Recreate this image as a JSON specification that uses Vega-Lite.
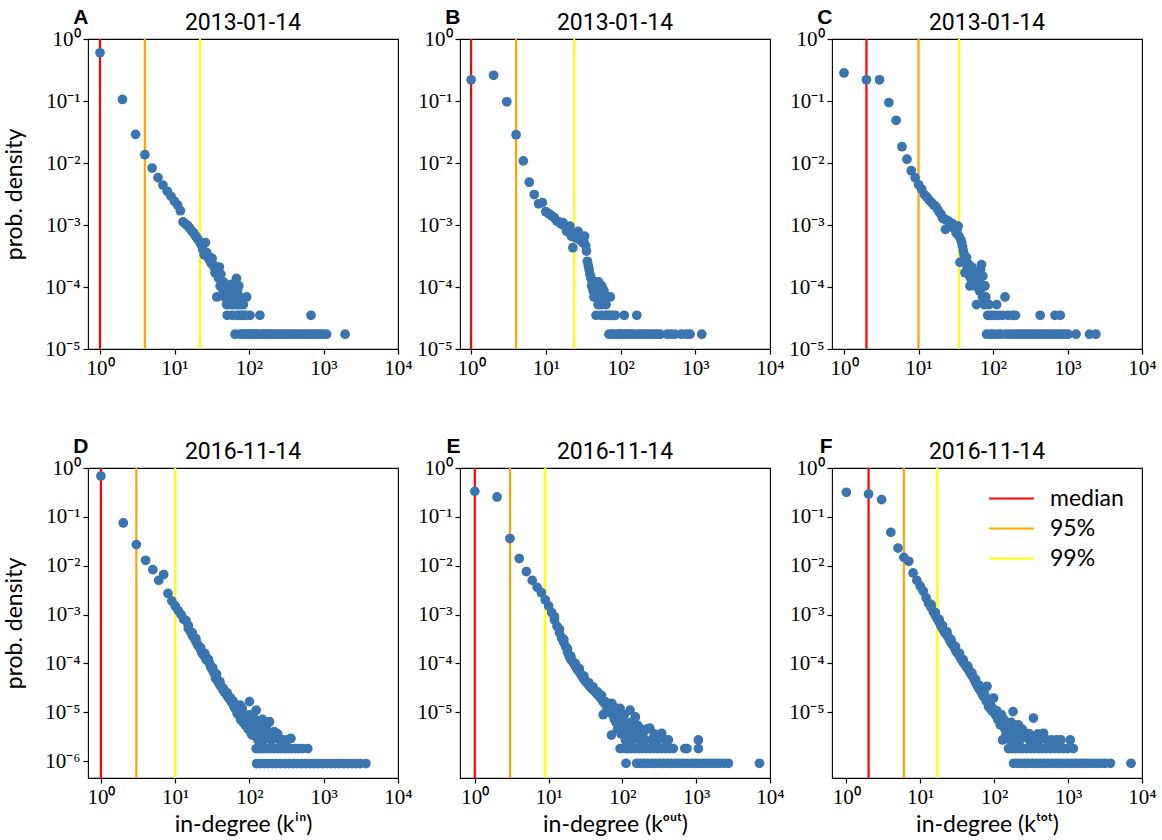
{
"$schema":"https://vega.github.io/schema/vega-lite/v6.json",
"background":"white",
"padding":{"left":3,"top":5,"right":0,"bottom":0},
"columns":3,
"bounds":"flush",
"spacing":{"row":119,"column":62},
"resolve":{"scale":{"x":"independent","y":"independent","color":"independent"}},
"config":{
 "view":{"stroke":"black","strokeWidth":1.1},
 "axis":{"domain":false,"grid":false,"tickSize":5,"tickWidth":1.2,"tickColor":"black","labelFont":"Liberation Serif","labelFontSize":21,"labelColor":"black","labelPadding":3,"titleFont":"Lato","titleFontSize":23,"titleFontWeight":"normal","titleColor":"black","labelOverlap":false,"labelFlush":false,"labelBound":false},
 "axisY":{"titlePadding":18},
 "axisX":{"titlePadding":6},
 "title":{"font":"Roboto","fontSize":23,"fontWeight":"normal","color":"black","anchor":"middle","frame":"group","baseline":"alphabetic","offset":0,"dy":33},
 "legend":{"orient":"top-right","offset":18,"padding":0,"symbolType":"M-2,0H2","symbolSize":500,"symbolStrokeWidth":2.2,"labelFont":"Lato","labelFontSize":23,"labelColor":"black","rowPadding":5,"labelOffset":26}
},
"datasets":{
"lines":[
{"p":"A","k":1,"stat":"median"},{"p":"A","k":4,"stat":"95%"},{"p":"A","k":22,"stat":"99%"},
{"p":"B","k":1,"stat":"median"},{"p":"B","k":4,"stat":"95%"},{"p":"B","k":24,"stat":"99%"},
{"p":"C","k":2,"stat":"median"},{"p":"C","k":10,"stat":"95%"},{"p":"C","k":35,"stat":"99%"},
{"p":"D","k":1,"stat":"median"},{"p":"D","k":3,"stat":"95%"},{"p":"D","k":10,"stat":"99%"},
{"p":"E","k":1,"stat":"median"},{"p":"E","k":3,"stat":"95%"},{"p":"E","k":9,"stat":"99%"},
{"p":"F","k":2,"stat":"median"},{"p":"F","k":6,"stat":"95%"},{"p":"F","k":17,"stat":"99%"}
],
"pts":[
{"p":"A","k":1,"d":0.6},{"p":"A","k":2,"d":0.106},{"p":"A","k":3,"d":0.029},{"p":"A","k":4,"d":0.0136},{"p":"A","k":5,"d":0.0083},{"p":"A","k":6,"d":0.0058},{"p":"A","k":7,"d":0.0044},{"p":"A","k":8,"d":0.0035},{"p":"A","k":9,"d":0.0029},{"p":"A","k":10,"d":0.0024},{"p":"A","k":11,"d":0.0021},{"p":"A","k":12,"d":0.0017},{"p":"A","k":13,"d":0.00112},{"p":"A","k":14,"d":0.00104},{"p":"A","k":15,"d":0.00098},{"p":"A","k":16,"d":0.00089},{"p":"A","k":17,"d":0.0008},{"p":"A","k":18,"d":0.00075},{"p":"A","k":19,"d":0.00067},{"p":"A","k":20,"d":0.00062},{"p":"A","k":21,"d":0.00057},{"p":"A","k":22,"d":0.00052},{"p":"A","k":23,"d":0.00047},{"p":"A","k":24,"d":0.0004},{"p":"A","k":25,"d":0.00033},{"p":"A","k":26,"d":0.00052},{"p":"A","k":27,"d":0.00036},{"p":"A","k":28,"d":0.00031},{"p":"A","k":29,"d":0.00028},{"p":"A","k":30,"d":0.0003},{"p":"A","k":31,"d":0.00024},{"p":"A","k":32,"d":0.00029},{"p":"A","k":33,"d":0.00023},{"p":"A","k":34,"d":0.00021},{"p":"A","k":35,"d":0.00017},{"p":"A","k":36,"d":0.00019},{"p":"A","k":37,"d":0.000069},{"p":"A","k":38,"d":0.00016},{"p":"A","k":39,"d":0.00014},{"p":"A","k":40,"d":0.00021},{"p":"A","k":41,"d":0.000104},{"p":"A","k":42,"d":0.00016},{"p":"A","k":43,"d":0.00012},{"p":"A","k":44,"d":0.0001},{"p":"A","k":45,"d":0.000087},{"p":"A","k":46,"d":0.00012},{"p":"A","k":47,"d":0.000069},{"p":"A","k":48,"d":0.000104},{"p":"A","k":49,"d":0.000087},{"p":"A","k":50,"d":0.000052},{"p":"A","k":51,"d":0.000035},{"p":"A","k":52,"d":0.000087},{"p":"A","k":53,"d":0.000069},{"p":"A","k":54,"d":0.000104},{"p":"A","k":55,"d":0.000052},{"p":"A","k":56,"d":0.000069},{"p":"A","k":57,"d":0.000087},{"p":"A","k":58,"d":0.00011},{"p":"A","k":59,"d":0.000052},{"p":"A","k":60,"d":0.000035},{"p":"A","k":61,"d":0.000069},{"p":"A","k":62,"d":0.000052},{"p":"A","k":63,"d":0.000087},{"p":"A","k":64,"d":0.000104},{"p":"A","k":65,"d":0.0000173},{"p":"A","k":66,"d":0.000069},{"p":"A","k":67,"d":0.000052},{"p":"A","k":68,"d":0.000138},{"p":"A","k":69,"d":0.000035},{"p":"A","k":70,"d":0.000087},{"p":"A","k":71,"d":0.000069},{"p":"A","k":72,"d":0.000052},{"p":"A","k":73,"d":0.000104},{"p":"A","k":74,"d":0.000035},{"p":"A","k":75,"d":0.000069},{"p":"A","k":76,"d":0.0000173},{"p":"A","k":78,"d":0.000052},{"p":"A","k":80,"d":0.000035},{"p":"A","k":82,"d":0.0000173},{"p":"A","k":84,"d":0.000052},{"p":"A","k":86,"d":0.000035},{"p":"A","k":88,"d":0.0000173},{"p":"A","k":90,"d":0.000035},{"p":"A","k":93,"d":0.000069},{"p":"A","k":96,"d":0.0000173},{"p":"A","k":100,"d":0.0000173},{"p":"A","k":103,"d":0.000035},{"p":"A","k":107,"d":0.0000173},{"p":"A","k":112,"d":0.0000173},{"p":"A","k":118,"d":0.0000173},{"p":"A","k":124,"d":0.0000173},{"p":"A","k":130,"d":0.0000173},{"p":"A","k":140,"d":0.000035},{"p":"A","k":145,"d":0.0000173},{"p":"A","k":155,"d":0.0000173},{"p":"A","k":165,"d":0.0000173},{"p":"A","k":175,"d":0.0000173},{"p":"A","k":190,"d":0.0000173},{"p":"A","k":205,"d":0.0000173},{"p":"A","k":220,"d":0.0000173},{"p":"A","k":240,"d":0.0000173},{"p":"A","k":260,"d":0.0000173},{"p":"A","k":280,"d":0.0000173},{"p":"A","k":300,"d":0.0000173},{"p":"A","k":330,"d":0.0000173},{"p":"A","k":360,"d":0.0000173},{"p":"A","k":390,"d":0.0000173},{"p":"A","k":430,"d":0.0000173},{"p":"A","k":470,"d":0.0000173},{"p":"A","k":510,"d":0.0000173},{"p":"A","k":560,"d":0.0000173},{"p":"A","k":610,"d":0.0000173},{"p":"A","k":660,"d":0.0000173},{"p":"A","k":680,"d":0.000035},{"p":"A","k":720,"d":0.0000173},{"p":"A","k":780,"d":0.0000173},{"p":"A","k":850,"d":0.0000173},{"p":"A","k":920,"d":0.0000173},{"p":"A","k":1000,"d":0.0000173},{"p":"A","k":1100,"d":0.0000173},{"p":"A","k":1950,"d":0.0000173},

{"p":"B","k":1,"d":0.22},{"p":"B","k":2,"d":0.26},{"p":"B","k":3,"d":0.097},{"p":"B","k":4,"d":0.0286},{"p":"B","k":5,"d":0.0108},{"p":"B","k":6,"d":0.0049},{"p":"B","k":7,"d":0.0031},{"p":"B","k":8,"d":0.0022},{"p":"B","k":9,"d":0.0023},{"p":"B","k":10,"d":0.00164},{"p":"B","k":11,"d":0.00152},{"p":"B","k":12,"d":0.0014},{"p":"B","k":13,"d":0.00131},{"p":"B","k":14,"d":0.00116},{"p":"B","k":15,"d":0.00112},{"p":"B","k":16,"d":0.00104},{"p":"B","k":17,"d":0.00109},{"p":"B","k":18,"d":0.00095},{"p":"B","k":19,"d":0.00079},{"p":"B","k":20,"d":0.00085},{"p":"B","k":21,"d":0.00096},{"p":"B","k":22,"d":0.00066},{"p":"B","k":23,"d":0.00043},{"p":"B","k":24,"d":0.0007},{"p":"B","k":25,"d":0.00062},{"p":"B","k":26,"d":0.00075},{"p":"B","k":27,"d":0.00079},{"p":"B","k":28,"d":0.00058},{"p":"B","k":29,"d":0.0006},{"p":"B","k":30,"d":0.00059},{"p":"B","k":31,"d":0.00052},{"p":"B","k":32,"d":0.00055},{"p":"B","k":33,"d":0.00066},{"p":"B","k":34,"d":0.00047},{"p":"B","k":35,"d":0.00038},{"p":"B","k":36,"d":0.00026},{"p":"B","k":37,"d":0.00022},{"p":"B","k":38,"d":0.00019},{"p":"B","k":39,"d":0.00016},{"p":"B","k":40,"d":0.00014},{"p":"B","k":41,"d":0.000104},{"p":"B","k":42,"d":0.00012},{"p":"B","k":43,"d":0.000087},{"p":"B","k":44,"d":0.000069},{"p":"B","k":45,"d":0.000104},{"p":"B","k":46,"d":0.000121},{"p":"B","k":47,"d":0.000035},{"p":"B","k":48,"d":0.000087},{"p":"B","k":49,"d":0.000069},{"p":"B","k":50,"d":0.000052},{"p":"B","k":51,"d":0.000121},{"p":"B","k":52,"d":0.000069},{"p":"B","k":53,"d":0.000052},{"p":"B","k":54,"d":0.000087},{"p":"B","k":55,"d":0.000035},{"p":"B","k":56,"d":0.000104},{"p":"B","k":57,"d":0.000052},{"p":"B","k":58,"d":0.000069},{"p":"B","k":60,"d":0.000087},{"p":"B","k":62,"d":0.000035},{"p":"B","k":64,"d":0.000052},{"p":"B","k":66,"d":0.000035},{"p":"B","k":68,"d":0.000069},{"p":"B","k":70,"d":0.0000173},{"p":"B","k":72,"d":0.000035},{"p":"B","k":73,"d":0.000069},{"p":"B","k":75,"d":0.0000173},{"p":"B","k":78,"d":0.000035},{"p":"B","k":80,"d":0.0000173},{"p":"B","k":85,"d":0.000035},{"p":"B","k":90,"d":0.0000173},{"p":"B","k":95,"d":0.0000173},{"p":"B","k":100,"d":0.0000173},{"p":"B","k":106,"d":0.0000173},{"p":"B","k":112,"d":0.000035},{"p":"B","k":118,"d":0.0000173},{"p":"B","k":125,"d":0.0000173},{"p":"B","k":133,"d":0.0000173},{"p":"B","k":142,"d":0.0000173},{"p":"B","k":152,"d":0.0000173},{"p":"B","k":165,"d":0.000035},{"p":"B","k":170,"d":0.0000173},{"p":"B","k":185,"d":0.0000173},{"p":"B","k":200,"d":0.0000173},{"p":"B","k":220,"d":0.0000173},{"p":"B","k":240,"d":0.0000173},{"p":"B","k":265,"d":0.0000173},{"p":"B","k":290,"d":0.0000173},{"p":"B","k":315,"d":0.0000173},{"p":"B","k":340,"d":0.0000173},{"p":"B","k":420,"d":0.0000173},{"p":"B","k":470,"d":0.0000173},{"p":"B","k":530,"d":0.0000173},{"p":"B","k":650,"d":0.0000173},{"p":"B","k":760,"d":0.0000173},{"p":"B","k":850,"d":0.0000173},{"p":"B","k":1220,"d":0.0000173},

{"p":"C","k":1,"d":0.283},{"p":"C","k":2,"d":0.22},{"p":"C","k":3,"d":0.22},{"p":"C","k":4,"d":0.094},{"p":"C","k":5,"d":0.0488},{"p":"C","k":6,"d":0.0183},{"p":"C","k":7,"d":0.0115},{"p":"C","k":8,"d":0.0075},{"p":"C","k":9,"d":0.0058},{"p":"C","k":10,"d":0.0045},{"p":"C","k":11,"d":0.0038},{"p":"C","k":12,"d":0.0031},{"p":"C","k":13,"d":0.0028},{"p":"C","k":14,"d":0.0025},{"p":"C","k":15,"d":0.0023},{"p":"C","k":16,"d":0.0021},{"p":"C","k":17,"d":0.002},{"p":"C","k":18,"d":0.0018},{"p":"C","k":19,"d":0.0016},{"p":"C","k":20,"d":0.0015},{"p":"C","k":21,"d":0.0013},{"p":"C","k":22,"d":0.00125},{"p":"C","k":23,"d":0.00085},{"p":"C","k":24,"d":0.0012},{"p":"C","k":25,"d":0.00116},{"p":"C","k":26,"d":0.0011},{"p":"C","k":27,"d":0.00098},{"p":"C","k":28,"d":0.00105},{"p":"C","k":29,"d":0.00103},{"p":"C","k":30,"d":0.00088},{"p":"C","k":31,"d":0.00095},{"p":"C","k":32,"d":0.00075},{"p":"C","k":33,"d":0.00085},{"p":"C","k":34,"d":0.00096},{"p":"C","k":35,"d":0.00066},{"p":"C","k":36,"d":0.00025},{"p":"C","k":37,"d":0.00058},{"p":"C","k":38,"d":0.00052},{"p":"C","k":39,"d":0.00045},{"p":"C","k":40,"d":0.00038},{"p":"C","k":41,"d":0.00033},{"p":"C","k":42,"d":0.00017},{"p":"C","k":43,"d":0.00028},{"p":"C","k":44,"d":0.0003},{"p":"C","k":45,"d":0.00021},{"p":"C","k":46,"d":0.00024},{"p":"C","k":47,"d":0.00016},{"p":"C","k":48,"d":0.00019},{"p":"C","k":49,"d":0.000104},{"p":"C","k":50,"d":0.00014},{"p":"C","k":52,"d":0.00021},{"p":"C","k":54,"d":0.00012},{"p":"C","k":56,"d":0.00017},{"p":"C","k":58,"d":0.000104},{"p":"C","k":60,"d":0.000052},{"p":"C","k":62,"d":0.00014},{"p":"C","k":64,"d":0.000121},{"p":"C","k":66,"d":0.000087},{"p":"C","k":67,"d":0.000087},{"p":"C","k":68,"d":0.00019},{"p":"C","k":70,"d":0.00023},{"p":"C","k":72,"d":0.000069},{"p":"C","k":73,"d":0.00015},{"p":"C","k":75,"d":0.000104},{"p":"C","k":76,"d":0.000052},{"p":"C","k":78,"d":0.000104},{"p":"C","k":80,"d":0.000069},{"p":"C","k":82,"d":0.0000173},{"p":"C","k":85,"d":0.000035},{"p":"C","k":88,"d":0.000052},{"p":"C","k":92,"d":0.0000173},{"p":"C","k":95,"d":0.000035},{"p":"C","k":100,"d":0.0000173},{"p":"C","k":105,"d":0.000035},{"p":"C","k":112,"d":0.000052},{"p":"C","k":115,"d":0.0000173},{"p":"C","k":120,"d":0.000035},{"p":"C","k":128,"d":0.0000173},{"p":"C","k":135,"d":0.000035},{"p":"C","k":145,"d":0.000069},{"p":"C","k":150,"d":0.0000173},{"p":"C","k":160,"d":0.000035},{"p":"C","k":170,"d":0.0000173},{"p":"C","k":185,"d":0.000035},{"p":"C","k":190,"d":0.0000173},{"p":"C","k":200,"d":0.000035},{"p":"C","k":210,"d":0.0000173},{"p":"C","k":230,"d":0.0000173},{"p":"C","k":250,"d":0.0000173},{"p":"C","k":275,"d":0.0000173},{"p":"C","k":300,"d":0.0000173},{"p":"C","k":330,"d":0.0000173},{"p":"C","k":360,"d":0.0000173},{"p":"C","k":400,"d":0.0000173},{"p":"C","k":430,"d":0.000035},{"p":"C","k":440,"d":0.0000173},{"p":"C","k":480,"d":0.0000173},{"p":"C","k":530,"d":0.0000173},{"p":"C","k":580,"d":0.0000173},{"p":"C","k":640,"d":0.0000173},{"p":"C","k":680,"d":0.000035},{"p":"C","k":700,"d":0.0000173},{"p":"C","k":770,"d":0.0000173},{"p":"C","k":800,"d":0.000035},{"p":"C","k":850,"d":0.0000173},{"p":"C","k":930,"d":0.0000173},{"p":"C","k":1020,"d":0.0000173},{"p":"C","k":1300,"d":0.0000173},{"p":"C","k":1980,"d":0.0000173},{"p":"C","k":2400,"d":0.0000173},

{"p":"D","k":1,"d":0.685},{"p":"D","k":2,"d":0.075},{"p":"D","k":3,"d":0.027},{"p":"D","k":4,"d":0.0129},{"p":"D","k":5,"d":0.0083},{"p":"D","k":6,"d":0.005},{"p":"D","k":7,"d":0.0066},{"p":"D","k":8,"d":0.0027},{"p":"D","k":9,"d":0.0019},{"p":"D","k":10,"d":0.0015},{"p":"D","k":11,"d":0.0012},{"p":"D","k":12,"d":0.001},{"p":"D","k":13,"d":0.0008},{"p":"D","k":14,"d":0.00075},{"p":"D","k":15,"d":0.00052},{"p":"D","k":16,"d":0.00045},{"p":"D","k":17,"d":0.00037},{"p":"D","k":18,"d":0.00033},{"p":"D","k":19,"d":0.00028},{"p":"D","k":20,"d":0.00024},{"p":"D","k":21,"d":0.00022},{"p":"D","k":22,"d":0.00019},{"p":"D","k":23,"d":0.00016},{"p":"D","k":24,"d":0.00015},{"p":"D","k":25,"d":0.00014},{"p":"D","k":26,"d":0.00012},{"p":"D","k":27,"d":0.000127},{"p":"D","k":28,"d":0.00011},{"p":"D","k":29,"d":0.0001},{"p":"D","k":30,"d":0.000085},{"p":"D","k":31,"d":0.00008},{"p":"D","k":32,"d":0.000072},{"p":"D","k":33,"d":0.000066},{"p":"D","k":34,"d":0.00006},{"p":"D","k":35,"d":0.000049},{"p":"D","k":36,"d":0.000052},{"p":"D","k":37,"d":0.000045},{"p":"D","k":38,"d":0.000042},{"p":"D","k":39,"d":0.00004},{"p":"D","k":40,"d":0.000036},{"p":"D","k":42,"d":0.000033},{"p":"D","k":44,"d":0.000029},{"p":"D","k":46,"d":0.000026},{"p":"D","k":48,"d":0.000024},{"p":"D","k":50,"d":0.000022},{"p":"D","k":52,"d":0.00002},{"p":"D","k":54,"d":0.000019},{"p":"D","k":56,"d":0.000017},{"p":"D","k":58,"d":0.000016},{"p":"D","k":60,"d":0.000015},{"p":"D","k":62,"d":0.000013},{"p":"D","k":64,"d":0.000012},{"p":"D","k":66,"d":0.000014},{"p":"D","k":68,"d":0.0000095},{"p":"D","k":70,"d":0.000011},{"p":"D","k":72,"d":0.0000089},{"p":"D","k":74,"d":0.00001},{"p":"D","k":76,"d":0.0000071},{"p":"D","k":78,"d":0.0000098},{"p":"D","k":80,"d":0.000012},{"p":"D","k":82,"d":0.0000062},{"p":"D","k":84,"d":0.0000089},{"p":"D","k":86,"d":0.0000071},{"p":"D","k":88,"d":0.0000054},{"p":"D","k":90,"d":0.0000055},{"p":"D","k":93,"d":0.000008},{"p":"D","k":96,"d":0.0000045},{"p":"D","k":100,"d":0.0000088},{"p":"D","k":100,"d":0.0000165},{"p":"D","k":103,"d":0.0000062},{"p":"D","k":106,"d":0.0000036},{"p":"D","k":110,"d":0.0000034},{"p":"D","k":113,"d":0.0000054},{"p":"D","k":116,"d":0.0000045},{"p":"D","k":120,"d":0.0000071},{"p":"D","k":123,"d":0.000011},{"p":"D","k":126,"d":0.0000036},{"p":"D","k":130,"d":0.0000027},{"p":"D","k":133,"d":0.0000045},{"p":"D","k":136,"d":0.0000027},{"p":"D","k":140,"d":0.0000054},{"p":"D","k":145,"d":0.0000036},{"p":"D","k":150,"d":0.0000071},{"p":"D","k":155,"d":0.0000027},{"p":"D","k":160,"d":0.0000045},{"p":"D","k":165,"d":0.0000036},{"p":"D","k":170,"d":0.0000045},{"p":"D","k":176,"d":0.0000059},{"p":"D","k":186,"d":0.0000064},{"p":"D","k":190,"d":0.0000036},{"p":"D","k":197,"d":0.0000027},{"p":"D","k":205,"d":0.0000036},{"p":"D","k":216,"d":0.000004},{"p":"D","k":227,"d":0.0000029},{"p":"D","k":240,"d":0.0000036},{"p":"D","k":255,"d":0.0000027},{"p":"D","k":285,"d":0.0000027},{"p":"D","k":320,"d":0.0000027},{"p":"D","k":362,"d":0.0000029},
{"p":"D","k":15,"d":0.0006},{"p":"D","k":17,"d":0.00042},{"p":"D","k":19,"d":0.00032},{"p":"D","k":22,"d":0.00021},{"p":"D","k":25,"d":0.00016},{"p":"D","k":28,"d":0.00012},{"p":"D","k":32,"d":0.000082},{"p":"D","k":36,"d":0.00006},{"p":"D","k":40,"d":0.000042},{"p":"D","k":45,"d":0.00003},{"p":"D","k":50,"d":0.000025},{"p":"D","k":55,"d":0.00002},{"p":"D","k":60,"d":0.000017},{"p":"D","k":70,"d":0.000013},{"p":"D","k":75,"d":0.000014},
{"p":"D","k":123,"d":0.0000018},{"p":"D","k":135,"d":0.0000018},{"p":"D","k":150,"d":0.0000018},{"p":"D","k":165,"d":0.0000018},{"p":"D","k":182,"d":0.0000018},{"p":"D","k":200,"d":0.0000018},{"p":"D","k":220,"d":0.0000018},{"p":"D","k":245,"d":0.0000018},{"p":"D","k":270,"d":0.0000018},{"p":"D","k":300,"d":0.0000018},{"p":"D","k":330,"d":0.0000018},{"p":"D","k":370,"d":0.0000018},{"p":"D","k":410,"d":0.0000018},{"p":"D","k":460,"d":0.0000018},{"p":"D","k":520,"d":0.0000018},{"p":"D","k":610,"d":0.0000018},
{"p":"D","k":125,"d":0.00000089},{"p":"D","k":140,"d":0.00000089},{"p":"D","k":160,"d":0.00000089},{"p":"D","k":180,"d":0.00000089},{"p":"D","k":205,"d":0.00000089},{"p":"D","k":230,"d":0.00000089},{"p":"D","k":260,"d":0.00000089},{"p":"D","k":300,"d":0.00000089},{"p":"D","k":340,"d":0.00000089},{"p":"D","k":390,"d":0.00000089},{"p":"D","k":440,"d":0.00000089},{"p":"D","k":500,"d":0.00000089},{"p":"D","k":570,"d":0.00000089},{"p":"D","k":650,"d":0.00000089},{"p":"D","k":740,"d":0.00000089},{"p":"D","k":840,"d":0.00000089},{"p":"D","k":960,"d":0.00000089},{"p":"D","k":1100,"d":0.00000089},{"p":"D","k":1250,"d":0.00000089},{"p":"D","k":1420,"d":0.00000089},{"p":"D","k":1620,"d":0.00000089},{"p":"D","k":1850,"d":0.00000089},{"p":"D","k":2100,"d":0.00000089},{"p":"D","k":2400,"d":0.00000089},{"p":"D","k":2750,"d":0.00000089},{"p":"D","k":3100,"d":0.00000089},{"p":"D","k":3700,"d":0.00000089},

{"p":"E","k":1,"d":0.333},{"p":"E","k":2,"d":0.255},{"p":"E","k":3,"d":0.036},{"p":"E","k":4,"d":0.014},{"p":"E","k":5,"d":0.0076},{"p":"E","k":6,"d":0.005},{"p":"E","k":7,"d":0.0036},{"p":"E","k":8,"d":0.0028},{"p":"E","k":9,"d":0.002},{"p":"E","k":10,"d":0.0015},{"p":"E","k":11,"d":0.0011},{"p":"E","k":12,"d":0.00078},{"p":"E","k":13,"d":0.00058},{"p":"E","k":14,"d":0.00043},{"p":"E","k":15,"d":0.00033},{"p":"E","k":16,"d":0.00027},{"p":"E","k":17,"d":0.00022},{"p":"E","k":18,"d":0.00017},{"p":"E","k":19,"d":0.00014},{"p":"E","k":20,"d":0.00012},{"p":"E","k":21,"d":0.00011},{"p":"E","k":22,"d":0.0001},{"p":"E","k":23,"d":0.000088},{"p":"E","k":24,"d":0.000079},{"p":"E","k":25,"d":0.000072},{"p":"E","k":26,"d":0.000068},{"p":"E","k":27,"d":0.000062},{"p":"E","k":28,"d":0.000056},{"p":"E","k":29,"d":0.000052},{"p":"E","k":30,"d":0.000048},{"p":"E","k":31,"d":0.000046},{"p":"E","k":32,"d":0.000042},{"p":"E","k":34,"d":0.000038},{"p":"E","k":36,"d":0.000034},{"p":"E","k":38,"d":0.000031},{"p":"E","k":40,"d":0.000029},{"p":"E","k":42,"d":0.000027},{"p":"E","k":44,"d":0.000025},{"p":"E","k":46,"d":0.000023},{"p":"E","k":48,"d":0.000022},{"p":"E","k":50,"d":0.00002},{"p":"E","k":52,"d":0.000019},{"p":"E","k":54,"d":0.000017},{"p":"E","k":55,"d":0.0000089},{"p":"E","k":56,"d":0.000016},{"p":"E","k":58,"d":0.0000165},{"p":"E","k":60,"d":0.000014},{"p":"E","k":62,"d":0.000012},{"p":"E","k":64,"d":0.000013},{"p":"E","k":66,"d":0.000011},{"p":"E","k":68,"d":0.0000098},{"p":"E","k":70,"d":0.000013},{"p":"E","k":71,"d":0.0000034},{"p":"E","k":72,"d":0.0000152},{"p":"E","k":74,"d":0.0000089},{"p":"E","k":76,"d":0.000011},{"p":"E","k":78,"d":0.0000071},{"p":"E","k":80,"d":0.0000098},{"p":"E","k":82,"d":0.0000062},{"p":"E","k":84,"d":0.000012},{"p":"E","k":86,"d":0.0000045},{"p":"E","k":88,"d":0.000008},{"p":"E","k":90,"d":0.0000054},{"p":"E","k":93,"d":0.000012},{"p":"E","k":96,"d":0.0000036},{"p":"E","k":100,"d":0.0000071},{"p":"E","k":103,"d":0.0000045},{"p":"E","k":106,"d":0.0000089},{"p":"E","k":110,"d":0.0000027},{"p":"E","k":112,"d":0.0000009},{"p":"E","k":115,"d":0.0000054},{"p":"E","k":120,"d":0.0000036},{"p":"E","k":127,"d":0.000011},{"p":"E","k":130,"d":0.0000062},{"p":"E","k":135,"d":0.0000027},{"p":"E","k":140,"d":0.0000045},{"p":"E","k":150,"d":0.000008},{"p":"E","k":155,"d":0.0000036},{"p":"E","k":160,"d":0.0000054},{"p":"E","k":170,"d":0.0000027},{"p":"E","k":180,"d":0.0000045},{"p":"E","k":190,"d":0.0000036},{"p":"E","k":200,"d":0.0000027},{"p":"E","k":215,"d":0.0000045},{"p":"E","k":235,"d":0.0000047},{"p":"E","k":250,"d":0.0000027},{"p":"E","k":270,"d":0.0000036},{"p":"E","k":300,"d":0.0000027},{"p":"E","k":340,"d":0.0000037},{"p":"E","k":380,"d":0.0000027},{"p":"E","k":420,"d":0.0000027},{"p":"E","k":1070,"d":0.0000027},
{"p":"E","k":12,"d":0.0009},{"p":"E","k":14,"d":0.0005},{"p":"E","k":16,"d":0.00031},{"p":"E","k":18,"d":0.0002},{"p":"E","k":20,"d":0.00014},{"p":"E","k":23,"d":0.0001},{"p":"E","k":26,"d":0.000078},{"p":"E","k":30,"d":0.000055},{"p":"E","k":35,"d":0.00004},{"p":"E","k":40,"d":0.000033},{"p":"E","k":46,"d":0.000026},{"p":"E","k":52,"d":0.000022},{"p":"E","k":60,"d":0.000016},
{"p":"E","k":93,"d":0.0000018},{"p":"E","k":105,"d":0.0000018},{"p":"E","k":118,"d":0.0000018},{"p":"E","k":132,"d":0.0000018},{"p":"E","k":148,"d":0.0000018},{"p":"E","k":165,"d":0.0000018},{"p":"E","k":185,"d":0.0000018},{"p":"E","k":210,"d":0.0000018},{"p":"E","k":235,"d":0.0000018},{"p":"E","k":265,"d":0.0000018},{"p":"E","k":300,"d":0.0000018},{"p":"E","k":340,"d":0.0000018},{"p":"E","k":380,"d":0.0000018},{"p":"E","k":430,"d":0.0000018},{"p":"E","k":490,"d":0.0000018},{"p":"E","k":700,"d":0.0000018},{"p":"E","k":750,"d":0.0000018},{"p":"E","k":1070,"d":0.0000018},
{"p":"E","k":156,"d":0.0000009},{"p":"E","k":175,"d":0.0000009},{"p":"E","k":195,"d":0.0000009},{"p":"E","k":220,"d":0.0000009},{"p":"E","k":250,"d":0.0000009},{"p":"E","k":280,"d":0.0000009},{"p":"E","k":320,"d":0.0000009},{"p":"E","k":360,"d":0.0000009},{"p":"E","k":410,"d":0.0000009},{"p":"E","k":460,"d":0.0000009},{"p":"E","k":520,"d":0.0000009},{"p":"E","k":590,"d":0.0000009},{"p":"E","k":670,"d":0.0000009},{"p":"E","k":760,"d":0.0000009},{"p":"E","k":860,"d":0.0000009},{"p":"E","k":980,"d":0.0000009},{"p":"E","k":1100,"d":0.0000009},{"p":"E","k":1250,"d":0.0000009},{"p":"E","k":1420,"d":0.0000009},{"p":"E","k":1600,"d":0.0000009},{"p":"E","k":1800,"d":0.0000009},{"p":"E","k":2050,"d":0.0000009},{"p":"E","k":2350,"d":0.0000009},{"p":"E","k":2730,"d":0.0000009},{"p":"E","k":7200,"d":0.0000009},

{"p":"F","k":1,"d":0.318},{"p":"F","k":2,"d":0.293},{"p":"F","k":3,"d":0.225},{"p":"F","k":4,"d":0.048},{"p":"F","k":5,"d":0.023},{"p":"F","k":6,"d":0.0148},{"p":"F","k":7,"d":0.0123},{"p":"F","k":8,"d":0.0071},{"p":"F","k":9,"d":0.005},{"p":"F","k":10,"d":0.0038},{"p":"F","k":11,"d":0.003},{"p":"F","k":12,"d":0.0022},{"p":"F","k":13,"d":0.0017},{"p":"F","k":14,"d":0.0014},{"p":"F","k":15,"d":0.00115},{"p":"F","k":16,"d":0.00095},{"p":"F","k":17,"d":0.00082},{"p":"F","k":18,"d":0.0007},{"p":"F","k":19,"d":0.00059},{"p":"F","k":20,"d":0.00052},{"p":"F","k":21,"d":0.00045},{"p":"F","k":22,"d":0.00041},{"p":"F","k":23,"d":0.00038},{"p":"F","k":24,"d":0.00034},{"p":"F","k":25,"d":0.0003},{"p":"F","k":26,"d":0.00027},{"p":"F","k":27,"d":0.00025},{"p":"F","k":28,"d":0.00023},{"p":"F","k":29,"d":0.00021},{"p":"F","k":30,"d":0.00019},{"p":"F","k":31,"d":0.00017},{"p":"F","k":32,"d":0.00016},{"p":"F","k":34,"d":0.00014},{"p":"F","k":36,"d":0.00012},{"p":"F","k":38,"d":0.000105},{"p":"F","k":40,"d":0.000095},{"p":"F","k":42,"d":0.000085},{"p":"F","k":44,"d":0.000078},{"p":"F","k":46,"d":0.00007},{"p":"F","k":48,"d":0.000062},{"p":"F","k":50,"d":0.000057},{"p":"F","k":52,"d":0.000052},{"p":"F","k":54,"d":0.000047},{"p":"F","k":56,"d":0.000041},{"p":"F","k":58,"d":0.000037},{"p":"F","k":60,"d":0.000034},{"p":"F","k":62,"d":0.000031},{"p":"F","k":64,"d":0.000029},{"p":"F","k":66,"d":0.000027},{"p":"F","k":68,"d":0.000025},{"p":"F","k":70,"d":0.000023},{"p":"F","k":72,"d":0.000021},{"p":"F","k":74,"d":0.000024},{"p":"F","k":76,"d":0.00002},{"p":"F","k":78,"d":0.000017},{"p":"F","k":80,"d":0.000034},{"p":"F","k":82,"d":0.000016},{"p":"F","k":84,"d":0.000013},{"p":"F","k":86,"d":0.000015},{"p":"F","k":88,"d":0.000012},{"p":"F","k":90,"d":0.000014},{"p":"F","k":93,"d":0.0000107},{"p":"F","k":96,"d":0.000012},{"p":"F","k":98,"d":0.0000195},{"p":"F","k":100,"d":0.0000098},{"p":"F","k":104,"d":0.0000089},{"p":"F","k":108,"d":0.0000107},{"p":"F","k":112,"d":0.0000071},{"p":"F","k":116,"d":0.000008},{"p":"F","k":121,"d":0.0000055},{"p":"F","k":125,"d":0.0000089},{"p":"F","k":130,"d":0.0000062},{"p":"F","k":135,"d":0.0000071},{"p":"F","k":140,"d":0.0000045},{"p":"F","k":145,"d":0.0000062},{"p":"F","k":150,"d":0.0000054},{"p":"F","k":156,"d":0.0000036},{"p":"F","k":162,"d":0.0000045},{"p":"F","k":170,"d":0.0000062},{"p":"F","k":180,"d":0.0000103},{"p":"F","k":190,"d":0.0000036},{"p":"F","k":200,"d":0.0000054},{"p":"F","k":213,"d":0.0000055},{"p":"F","k":225,"d":0.0000027},{"p":"F","k":240,"d":0.0000045},{"p":"F","k":260,"d":0.0000036},{"p":"F","k":275,"d":0.0000037},{"p":"F","k":300,"d":0.0000027},{"p":"F","k":340,"d":0.0000076},{"p":"F","k":360,"d":0.0000027},{"p":"F","k":410,"d":0.0000027},{"p":"F","k":465,"d":0.0000037},{"p":"F","k":520,"d":0.0000027},{"p":"F","k":600,"d":0.0000027},{"p":"F","k":700,"d":0.0000027},{"p":"F","k":800,"d":0.0000027},{"p":"F","k":1070,"d":0.0000027},{"p":"F","k":130,"d":0.0000027},{"p":"F","k":165,"d":0.0000027},{"p":"F","k":200,"d":0.0000027},{"p":"F","k":145,"d":0.0000036},{"p":"F","k":180,"d":0.0000036},{"p":"F","k":230,"d":0.0000036},{"p":"F","k":300,"d":0.0000036},{"p":"F","k":390,"d":0.0000036},
{"p":"F","k":14,"d":0.0016},{"p":"F","k":16,"d":0.0011},{"p":"F","k":18,"d":0.0008},{"p":"F","k":20,"d":0.0006},{"p":"F","k":23,"d":0.00044},{"p":"F","k":26,"d":0.00031},{"p":"F","k":30,"d":0.00022},{"p":"F","k":34,"d":0.00016},{"p":"F","k":38,"d":0.00012},{"p":"F","k":44,"d":0.000088},{"p":"F","k":50,"d":0.000064},{"p":"F","k":56,"d":0.000047},{"p":"F","k":62,"d":0.000036},
{"p":"F","k":156,"d":0.0000018},{"p":"F","k":175,"d":0.0000018},{"p":"F","k":195,"d":0.0000018},{"p":"F","k":220,"d":0.0000018},{"p":"F","k":245,"d":0.0000018},{"p":"F","k":275,"d":0.0000018},{"p":"F","k":310,"d":0.0000018},{"p":"F","k":350,"d":0.0000018},{"p":"F","k":400,"d":0.0000018},{"p":"F","k":450,"d":0.0000018},{"p":"F","k":510,"d":0.0000018},{"p":"F","k":580,"d":0.0000018},{"p":"F","k":660,"d":0.0000018},{"p":"F","k":750,"d":0.0000018},{"p":"F","k":860,"d":0.0000018},{"p":"F","k":980,"d":0.0000018},{"p":"F","k":1180,"d":0.0000018},
{"p":"F","k":183,"d":0.0000009},{"p":"F","k":205,"d":0.0000009},{"p":"F","k":230,"d":0.0000009},{"p":"F","k":260,"d":0.0000009},{"p":"F","k":290,"d":0.0000009},{"p":"F","k":330,"d":0.0000009},{"p":"F","k":370,"d":0.0000009},{"p":"F","k":420,"d":0.0000009},{"p":"F","k":470,"d":0.0000009},{"p":"F","k":530,"d":0.0000009},{"p":"F","k":600,"d":0.0000009},{"p":"F","k":680,"d":0.0000009},{"p":"F","k":770,"d":0.0000009},{"p":"F","k":870,"d":0.0000009},{"p":"F","k":990,"d":0.0000009},{"p":"F","k":1120,"d":0.0000009},{"p":"F","k":1270,"d":0.0000009},{"p":"F","k":1440,"d":0.0000009},{"p":"F","k":1630,"d":0.0000009},{"p":"F","k":1850,"d":0.0000009},{"p":"F","k":2100,"d":0.0000009},{"p":"F","k":2400,"d":0.0000009},{"p":"F","k":2750,"d":0.0000009},{"p":"F","k":3150,"d":0.0000009},{"p":"F","k":3730,"d":0.0000009},{"p":"F","k":7100,"d":0.0000009}
]
},
"concat":[
{"width":310,"height":310,"title":{"text":"2013-01-14"},
 "layer":[
  {"data":{"name":"lines"},"transform":[{"filter":"datum.p==='A'"}],"mark":{"type":"rule","strokeWidth":2.2},
   "encoding":{"x":{"field":"k","type":"quantitative","scale":{"type":"log","domain":[0.69,10000],"nice":false},"axis":{"orient":"top","title":"A","labels":false,"ticks":false,"titleFont":"Liberation Sans","titleFontWeight":"bold","titleFontSize":21,"titleAlign":"right","titleBaseline":"alphabetic","titleX":0,"titleY":-16}},
    "color":{"field":"stat","type":"nominal","scale":{"domain":["median","95%","99%"],"range":["#ff0000","#ffa500","#ffff00"]},"legend":null}}},
  {"data":{"name":"pts"},"transform":[{"filter":"datum.p==='A'"}],"mark":{"type":"circle","size":95,"opacity":1,"color":"#3b75af"},
   "encoding":{"x":{"field":"k","type":"quantitative","scale":{"type":"log","domain":[0.69,10000],"nice":false},"axis":{"values":[1,10,100,1000,10000],"labelExpr":"['10⁰','10¹','10²','10³','10⁴'][round(log(datum.value)/LN10)]","title":null}},
    "y":{"field":"d","type":"quantitative","scale":{"type":"log","domain":[0.00001,1],"nice":false},"axis":{"values":[1,0.1,0.01,0.001,0.0001,0.00001],"labelExpr":"['10⁰','10⁻¹','10⁻²','10⁻³','10⁻⁴','10⁻⁵','10⁻⁶'][round(-log(datum.value)/LN10)]","title":"prob. density"}}}}
 ],
 "resolve":{"axis":{"x":"independent"}}},
{"width":310,"height":310,"title":{"text":"2013-01-14"},
 "layer":[
  {"data":{"name":"lines"},"transform":[{"filter":"datum.p==='B'"}],"mark":{"type":"rule","strokeWidth":2.2},
   "encoding":{"x":{"field":"k","type":"quantitative","scale":{"type":"log","domain":[0.71,10000],"nice":false},"axis":{"orient":"top","title":"B","labels":false,"ticks":false,"titleFont":"Liberation Sans","titleFontWeight":"bold","titleFontSize":21,"titleAlign":"right","titleBaseline":"alphabetic","titleX":0,"titleY":-16}},
    "color":{"field":"stat","type":"nominal","scale":{"domain":["median","95%","99%"],"range":["#ff0000","#ffa500","#ffff00"]},"legend":null}}},
  {"data":{"name":"pts"},"transform":[{"filter":"datum.p==='B'"}],"mark":{"type":"circle","size":95,"opacity":1,"color":"#3b75af"},
   "encoding":{"x":{"field":"k","type":"quantitative","scale":{"type":"log","domain":[0.71,10000],"nice":false},"axis":{"values":[1,10,100,1000,10000],"labelExpr":"['10⁰','10¹','10²','10³','10⁴'][round(log(datum.value)/LN10)]","title":null}},
    "y":{"field":"d","type":"quantitative","scale":{"type":"log","domain":[0.00001,1],"nice":false},"axis":{"values":[1,0.1,0.01,0.001,0.0001,0.00001],"labelExpr":"['10⁰','10⁻¹','10⁻²','10⁻³','10⁻⁴','10⁻⁵','10⁻⁶'][round(-log(datum.value)/LN10)]","title":null}}}}
 ],
 "resolve":{"axis":{"x":"independent"}}},
{"width":310,"height":310,"title":{"text":"2013-01-14"},
 "layer":[
  {"data":{"name":"lines"},"transform":[{"filter":"datum.p==='C'"}],"mark":{"type":"rule","strokeWidth":2.2},
   "encoding":{"x":{"field":"k","type":"quantitative","scale":{"type":"log","domain":[0.69,10000],"nice":false},"axis":{"orient":"top","title":"C","labels":false,"ticks":false,"titleFont":"Liberation Sans","titleFontWeight":"bold","titleFontSize":21,"titleAlign":"right","titleBaseline":"alphabetic","titleX":0,"titleY":-16}},
    "color":{"field":"stat","type":"nominal","scale":{"domain":["median","95%","99%"],"range":["#ff0000","#ffa500","#ffff00"]},"legend":null}}},
  {"data":{"name":"pts"},"transform":[{"filter":"datum.p==='C'"}],"mark":{"type":"circle","size":95,"opacity":1,"color":"#3b75af"},
   "encoding":{"x":{"field":"k","type":"quantitative","scale":{"type":"log","domain":[0.69,10000],"nice":false},"axis":{"values":[1,10,100,1000,10000],"labelExpr":"['10⁰','10¹','10²','10³','10⁴'][round(log(datum.value)/LN10)]","title":null}},
    "y":{"field":"d","type":"quantitative","scale":{"type":"log","domain":[0.00001,1],"nice":false},"axis":{"values":[1,0.1,0.01,0.001,0.0001,0.00001],"labelExpr":"['10⁰','10⁻¹','10⁻²','10⁻³','10⁻⁴','10⁻⁵','10⁻⁶'][round(-log(datum.value)/LN10)]","title":null}}}}
 ],
 "resolve":{"axis":{"x":"independent"}}},
{"width":310,"height":310,"title":{"text":"2016-11-14"},
 "layer":[
  {"data":{"name":"lines"},"transform":[{"filter":"datum.p==='D'"}],"mark":{"type":"rule","strokeWidth":2.2},
   "encoding":{"x":{"field":"k","type":"quantitative","scale":{"type":"log","domain":[0.67,10000],"nice":false},"axis":{"orient":"top","title":"D","labels":false,"ticks":false,"titleFont":"Liberation Sans","titleFontWeight":"bold","titleFontSize":21,"titleAlign":"right","titleBaseline":"alphabetic","titleX":0,"titleY":-16}},
    "color":{"field":"stat","type":"nominal","scale":{"domain":["median","95%","99%"],"range":["#ff0000","#ffa500","#ffff00"]},"legend":null}}},
  {"data":{"name":"pts"},"transform":[{"filter":"datum.p==='D'"}],"mark":{"type":"circle","size":95,"opacity":1,"color":"#3b75af"},
   "encoding":{"x":{"field":"k","type":"quantitative","scale":{"type":"log","domain":[0.67,10000],"nice":false},"axis":{"values":[1,10,100,1000,10000],"labelExpr":"['10⁰','10¹','10²','10³','10⁴'][round(log(datum.value)/LN10)]","title":"in-degree (kⁱⁿ)"}},
    "y":{"field":"d","type":"quantitative","scale":{"type":"log","domain":[0.00000045,1],"nice":false},"axis":{"values":[1,0.1,0.01,0.001,0.0001,0.00001,0.000001],"labelExpr":"['10⁰','10⁻¹','10⁻²','10⁻³','10⁻⁴','10⁻⁵','10⁻⁶'][round(-log(datum.value)/LN10)]","title":"prob. density"}}}}
 ],
 "resolve":{"axis":{"x":"independent"}}},
{"width":310,"height":310,"title":{"text":"2016-11-14"},
 "layer":[
  {"data":{"name":"lines"},"transform":[{"filter":"datum.p==='E'"}],"mark":{"type":"rule","strokeWidth":2.2},
   "encoding":{"x":{"field":"k","type":"quantitative","scale":{"type":"log","domain":[0.63,10000],"nice":false},"axis":{"orient":"top","title":"E","labels":false,"ticks":false,"titleFont":"Liberation Sans","titleFontWeight":"bold","titleFontSize":21,"titleAlign":"right","titleBaseline":"alphabetic","titleX":0,"titleY":-16}},
    "color":{"field":"stat","type":"nominal","scale":{"domain":["median","95%","99%"],"range":["#ff0000","#ffa500","#ffff00"]},"legend":null}}},
  {"data":{"name":"pts"},"transform":[{"filter":"datum.p==='E'"}],"mark":{"type":"circle","size":95,"opacity":1,"color":"#3b75af"},
   "encoding":{"x":{"field":"k","type":"quantitative","scale":{"type":"log","domain":[0.63,10000],"nice":false},"axis":{"values":[1,10,100,1000,10000],"labelExpr":"['10⁰','10¹','10²','10³','10⁴'][round(log(datum.value)/LN10)]","title":"in-degree (kᵒᵘᵗ)"}},
    "y":{"field":"d","type":"quantitative","scale":{"type":"log","domain":[0.00000045,1],"nice":false},"axis":{"values":[1,0.1,0.01,0.001,0.0001,0.00001],"labelExpr":"['10⁰','10⁻¹','10⁻²','10⁻³','10⁻⁴','10⁻⁵','10⁻⁶'][round(-log(datum.value)/LN10)]","title":null}}}}
 ],
 "resolve":{"axis":{"x":"independent"}}},
{"width":310,"height":310,"title":{"text":"2016-11-14"},
 "layer":[
  {"data":{"name":"lines"},"transform":[{"filter":"datum.p==='F'"}],"mark":{"type":"rule","strokeWidth":2.2},
   "encoding":{"x":{"field":"k","type":"quantitative","scale":{"type":"log","domain":[0.64,10000],"nice":false},"axis":{"orient":"top","title":"F","labels":false,"ticks":false,"titleFont":"Liberation Sans","titleFontWeight":"bold","titleFontSize":21,"titleAlign":"right","titleBaseline":"alphabetic","titleX":0,"titleY":-16}},
    "color":{"field":"stat","type":"nominal","scale":{"domain":["median","95%","99%"],"range":["#ff0000","#ffa500","#ffff00"]},"legend":{"title":null}}}},
  {"data":{"name":"pts"},"transform":[{"filter":"datum.p==='F'"}],"mark":{"type":"circle","size":95,"opacity":1,"color":"#3b75af"},
   "encoding":{"x":{"field":"k","type":"quantitative","scale":{"type":"log","domain":[0.64,10000],"nice":false},"axis":{"values":[1,10,100,1000,10000],"labelExpr":"['10⁰','10¹','10²','10³','10⁴'][round(log(datum.value)/LN10)]","title":"in-degree (kᵗᵒᵗ)"}},
    "y":{"field":"d","type":"quantitative","scale":{"type":"log","domain":[0.00000045,1],"nice":false},"axis":{"values":[1,0.1,0.01,0.001,0.0001,0.00001],"labelExpr":"['10⁰','10⁻¹','10⁻²','10⁻³','10⁻⁴','10⁻⁵','10⁻⁶'][round(-log(datum.value)/LN10)]","title":null}}}}
 ],
 "resolve":{"axis":{"x":"independent"}}}
]
}
